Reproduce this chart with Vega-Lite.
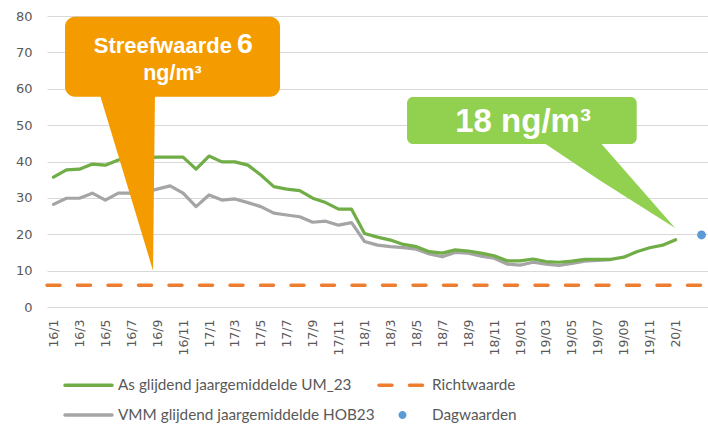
{
  "$schema": "https://vega.github.io/schema/vega-lite/v6.json",
  "width": 661,
  "height": 291,
  "autosize": {"type": "none"},
  "padding": {"left": 47, "top": 16, "right": 0, "bottom": 117},
  "background": "white",
  "config": {"view": {"stroke": null}},
  "datasets": {
    "series": [
      {"m": 0, "As": 35.7, "VMM": 28.2},
      {"m": 1, "As": 37.7, "VMM": 29.9},
      {"m": 2, "As": 37.9, "VMM": 29.9},
      {"m": 3, "As": 39.3, "VMM": 31.3},
      {"m": 4, "As": 39.0, "VMM": 29.4},
      {"m": 5, "As": 40.4, "VMM": 31.3},
      {"m": 6, "As": 41.2, "VMM": 31.3},
      {"m": 7, "As": 41.0, "VMM": 31.5},
      {"m": 8, "As": 41.2, "VMM": 32.4},
      {"m": 9, "As": 41.2, "VMM": 33.3},
      {"m": 10, "As": 41.2, "VMM": 31.3},
      {"m": 11, "As": 37.9, "VMM": 27.6},
      {"m": 12, "As": 41.5, "VMM": 30.8},
      {"m": 13, "As": 39.9, "VMM": 29.4},
      {"m": 14, "As": 39.9, "VMM": 29.7},
      {"m": 15, "As": 39.0, "VMM": 28.7},
      {"m": 16, "As": 36.3, "VMM": 27.6},
      {"m": 17, "As": 33.1, "VMM": 25.8},
      {"m": 18, "As": 32.4, "VMM": 25.3},
      {"m": 19, "As": 32.0, "VMM": 24.8},
      {"m": 20, "As": 29.9, "VMM": 23.3},
      {"m": 21, "As": 28.7, "VMM": 23.6},
      {"m": 22, "As": 26.9, "VMM": 22.5},
      {"m": 23, "As": 26.9, "VMM": 23.2},
      {"m": 24, "As": 20.2, "VMM": 18.0},
      {"m": 25, "As": 19.2, "VMM": 17.0},
      {"m": 26, "As": 18.4, "VMM": 16.6},
      {"m": 27, "As": 17.2, "VMM": 16.3},
      {"m": 28, "As": 16.6, "VMM": 15.9},
      {"m": 29, "As": 15.2, "VMM": 14.6},
      {"m": 30, "As": 14.8, "VMM": 13.8},
      {"m": 31, "As": 15.7, "VMM": 15.0},
      {"m": 32, "As": 15.4, "VMM": 14.8},
      {"m": 33, "As": 14.8, "VMM": 14.0},
      {"m": 34, "As": 14.1, "VMM": 13.4},
      {"m": 35, "As": 12.7, "VMM": 11.8},
      {"m": 36, "As": 12.7, "VMM": 11.5},
      {"m": 37, "As": 13.2, "VMM": 12.3},
      {"m": 38, "As": 12.5, "VMM": 11.8},
      {"m": 39, "As": 12.3, "VMM": 11.4},
      {"m": 40, "As": 12.6, "VMM": 12.0},
      {"m": 41, "As": 13.1, "VMM": 12.6},
      {"m": 42, "As": 13.1, "VMM": 12.8},
      {"m": 43, "As": 13.1, "VMM": 13.0},
      {"m": 44, "As": 13.7},
      {"m": 45, "As": 15.2},
      {"m": 46, "As": 16.3},
      {"m": 47, "As": 17.0},
      {"m": 48, "As": 18.5}
    ]
  },
  "encoding": {
    "x": {
      "field": "m",
      "type": "quantitative",
      "title": null,
      "scale": {"domain": [-0.5, 50.5], "nice": false, "zero": false},
      "axis": {
        "values": [0, 2, 4, 6, 8, 10, 12, 14, 16, 18, 20, 22, 24, 26, 28, 30, 32, 34, 36, 38, 40, 42, 44, 46, 48],
        "labelExpr": "(16 + floor(datum.value / 12)) + '/' + (floor(datum.value / 12) == 3 ? pad('' + (datum.value % 12 + 1), 2, '0', 'left') : '' + (datum.value % 12 + 1))",
        "labelAngle": 270,
        "labelFont": "DejaVu Sans",
        "labelFontSize": 12.5,
        "labelColor": "#595959",
        "labelOverlap": false,
        "labelFlush": false,
        "labelPadding": 12,
        "ticks": false,
        "tickSize": 0,
        "domain": false,
        "grid": false
      }
    },
    "y": {
      "field": "v",
      "type": "quantitative",
      "title": null,
      "scale": {"domain": [0, 80], "nice": false},
      "axis": {
        "values": [0, 10, 20, 30, 40, 50, 60, 70, 80],
        "labelFont": "DejaVu Sans",
        "labelFontSize": 13,
        "labelColor": "#595959",
        "labelPadding": 15,
        "ticks": false,
        "tickSize": 0,
        "domain": false,
        "grid": true,
        "gridColor": "#D9D9D9",
        "gridWidth": 1
      }
    }
  },
  "layer": [
    {
      "data": {"name": "series"},
      "transform": [{"fold": ["VMM"], "as": ["s", "v"]}],
      "mark": {"type": "line", "strokeWidth": 3.2, "strokeJoin": "round", "strokeCap": "round"},
      "encoding": {
        "color": {
          "field": "s",
          "type": "nominal",
          "scale": {
            "domain": ["As", "VMM", "Richtwaarde", "Dagwaarden"],
            "range": ["#70AD47", "#A5A5A5", "#ED7D31", "#5B9BD5"]
          },
          "legend": {
            "title": null,
            "orient": "none",
            "legendX": 16,
            "legendY": 361,
            "columns": 2,
            "symbolType": "stroke",
            "symbolSize": 2209,
            "symbolStrokeWidth": 3.5,
            "clipHeight": 16,
            "labelFont": "Lato",
            "labelFontSize": 15.3,
            "labelColor": "#595959",
            "labelOffset": 4,
            "labelLimit": 400,
            "columnPadding": 2,
            "rowPadding": 13,
            "padding": 0,
            "labelExpr": "datum.label == 'As' ? 'As glijdend jaargemiddelde UM_23' : (datum.label == 'VMM' ? 'VMM glijdend jaargemiddelde HOB23' : datum.label)",
            "encode": {
              "symbols": {
                "update": {
                  "shape": {"signal": "datum.value == 'Dagwaarden' ? 'M-0.17,0A0.17,0.17,0,1,1,0.17,0A0.17,0.17,0,1,1,-0.17,0Z' : 'stroke'"},
                  "strokeDash": {"signal": "datum.value == 'Richtwaarde' ? [13, 17.5] : [1, 0]"},
                  "strokeCap": {"value": "round"},
                  "fill": {"signal": "datum.value == 'Dagwaarden' ? '#5B9BD5' : 'transparent'"},
                  "strokeOpacity": {"signal": "datum.value == 'Dagwaarden' ? 0 : 1"},
                  "opacity": {"value": 1}
                }
              }
            }
          }
        }
      }
    },
    {
      "data": {"name": "series"},
      "transform": [{"fold": ["As"], "as": ["s", "v"]}],
      "mark": {"type": "line", "strokeWidth": 3.2, "strokeJoin": "round", "strokeCap": "round"},
      "encoding": {"color": {"field": "s", "type": "nominal"}}
    },
    {
      "data": {"values": [{"s": "Richtwaarde", "m": -0.5, "m2": 50.5, "v": 6}]},
      "mark": {"type": "rule", "strokeWidth": 3.5, "strokeDash": [13, 17.5], "strokeCap": "round"},
      "encoding": {"x2": {"field": "m2"}, "color": {"field": "s", "type": "nominal"}}
    },
    {
      "data": {"values": [{"s": "Dagwaarden", "m": 50, "v": 19.8}]},
      "mark": {"type": "point", "filled": true, "size": 78, "opacity": 1},
      "encoding": {"color": {"field": "s", "type": "nominal"}}
    },
    {
      "data": {"values": [
        {"m": 3.59, "v": 58.3, "v2": 58.3},
        {"m": 7.68, "v": 58.3, "v2": 10.0},
        {"m": 7.83, "v": 58.3, "v2": 58.3}
      ]},
      "mark": {"type": "area", "orient": "vertical", "color": "#F49B00", "opacity": 1},
      "encoding": {"y2": {"field": "v2"}}
    },
    {
      "data": {"values": [{"m": 0.89, "m2": 17.48, "v": 57.8, "v2": 79.8}]},
      "mark": {"type": "rect", "color": "#F49B00", "cornerRadius": 10, "opacity": 1},
      "encoding": {"x2": {"field": "m2"}, "y2": {"field": "v2"}}
    },
    {
      "data": {"values": [
        {"m": 37.77, "v": 45.3, "v2": 45.3},
        {"m": 42.17, "v": 45.3, "v2": 34.8},
        {"m": 47.96, "v": 21.7, "v2": 21.7}
      ]},
      "mark": {"type": "area", "orient": "vertical", "color": "#92D050", "opacity": 1},
      "encoding": {"y2": {"field": "v2"}}
    },
    {
      "data": {"values": [{"m": 27.28, "m2": 45.0, "v": 44.8, "v2": 57.7}]},
      "mark": {"type": "rect", "color": "#92D050", "cornerRadius": 6, "opacity": 1},
      "encoding": {"x2": {"field": "m2"}, "y2": {"field": "v2"}}
    },
    {
      "data": {"values": [{"m": 13.77, "v": 69.75, "t": "Streefwaarde"}]},
      "mark": {"type": "text", "font": "Liberation Sans", "fontWeight": "bold", "fontSize": 22, "color": "white", "align": "right", "baseline": "alphabetic"},
      "encoding": {"text": {"field": "t"}}
    },
    {
      "data": {"values": [{"m": 14.16, "v": 69.75, "t": "6"}]},
      "mark": {"type": "text", "font": "Liberation Sans", "fontWeight": "bold", "fontSize": 28.5, "color": "white", "align": "left", "baseline": "alphabetic"},
      "encoding": {"text": {"field": "t"}}
    },
    {
      "data": {"values": [{"m": 9.18, "v": 62.4, "t": "ng/m³"}]},
      "mark": {"type": "text", "font": "Liberation Sans", "fontWeight": "bold", "fontSize": 21.5, "color": "white", "align": "center", "baseline": "alphabetic"},
      "encoding": {"text": {"field": "t"}}
    },
    {
      "data": {"values": [{"m": 36.23, "v": 48.2, "t": "18 ng/m³"}]},
      "mark": {"type": "text", "font": "Liberation Sans", "fontWeight": "bold", "fontSize": 33, "color": "white", "align": "center", "baseline": "alphabetic"},
      "encoding": {"text": {"field": "t"}}
    }
  ]
}
